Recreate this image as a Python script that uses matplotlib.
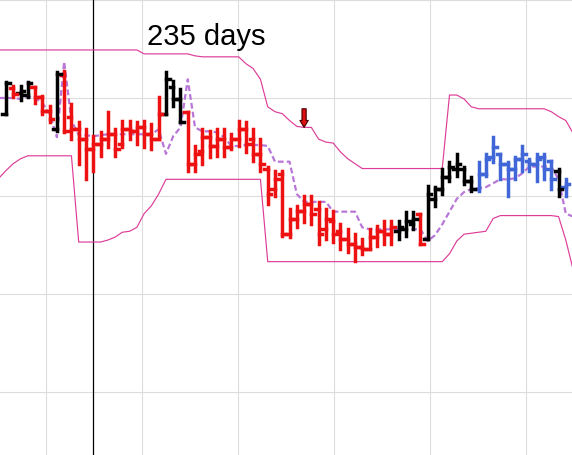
import numpy as np
import matplotlib.pyplot as plt

# daily bars (day 1..78)
bar_days = np.arange(1, 79)
opens = [48.4, 51.0, 50.5, 50.3, 51.1, 50.1, 48.7, 46.8, 52.3, 48.1,
         46.8, 45.8, 44.8, 45.3, 45.8, 46.3, 45.3, 46.8, 46.6, 47.0,
         46.3, 45.8, 48.4, 51.1, 49.9, 48.6, 43.3, 44.6, 46.0, 45.1,
         45.8, 45.0, 45.8, 46.8, 45.8, 44.3, 42.8, 40.7, 42.2, 36.1,
         37.7, 38.5, 39.2, 38.7, 36.6, 37.4, 36.4, 35.6, 35.1, 34.8,
         34.6, 35.8, 36.4, 36.1, 36.4, 36.6, 37.1, 38.2, 35.6, 39.7,
         40.7, 41.9, 42.8, 42.8, 41.5, 40.7, 42.2, 44.0, 44.3, 43.3,
         42.8, 43.8, 43.6, 43.3, 44.0, 43.6, 42.6, 40.9]
highs = [51.6, 51.2, 51.2, 51.6, 51.1, 50.2, 49.2, 52.7, 52.8, 49.4,
         47.6, 46.8, 46.1, 46.5, 48.6, 46.8, 47.7, 47.7, 47.6, 47.7,
         47.3, 50.1, 52.7, 51.7, 50.9, 48.6, 45.1, 46.8, 46.6, 46.8,
         46.8, 46.3, 47.7, 47.6, 46.8, 45.8, 43.0, 42.6, 42.6, 38.7,
         39.0, 40.0, 40.0, 39.4, 38.7, 38.5, 37.1, 36.6, 36.1, 35.6,
         36.6, 36.9, 37.4, 37.4, 37.4, 38.4, 38.4, 38.2, 41.0, 40.9,
         42.8, 43.5, 44.3, 43.0, 41.9, 43.5, 44.3, 46.0, 44.3, 43.5,
         44.0, 45.1, 43.8, 44.3, 44.3, 43.6, 42.8, 41.7]
lows = [48.4, 50.1, 49.8, 50.1, 49.5, 48.4, 47.5, 46.6, 46.5, 45.8,
        43.3, 41.7, 42.6, 44.1, 45.0, 44.1, 45.0, 45.8, 45.3, 45.0,
        44.8, 45.8, 48.4, 49.2, 47.6, 42.6, 42.6, 43.3, 44.0, 44.1,
        44.1, 44.8, 45.1, 44.5, 43.6, 42.6, 39.2, 40.0, 35.9, 35.8,
        36.8, 37.3, 37.1, 35.1, 35.6, 35.3, 34.6, 34.3, 33.4, 34.1,
        34.6, 34.9, 35.1, 35.1, 35.6, 35.9, 36.6, 35.1, 35.6, 39.0,
        40.2, 41.5, 42.0, 41.2, 40.5, 40.5, 42.0, 43.5, 41.7, 40.0,
        41.7, 42.5, 42.6, 41.5, 41.7, 40.7, 40.0, 40.0]
closes = [51.5, 50.4, 50.7, 51.5, 50.1, 48.7, 47.9, 52.4, 46.6, 46.8,
          45.8, 44.8, 45.3, 45.8, 46.3, 44.8, 46.8, 46.6, 47.0, 46.3,
          45.8, 48.4, 51.9, 49.9, 47.6, 43.3, 44.3, 46.0, 45.1, 45.8,
          45.0, 45.8, 46.8, 45.3, 44.3, 43.3, 40.2, 41.7, 36.1, 37.7,
          38.5, 39.2, 38.2, 36.1, 37.7, 36.1, 35.6, 35.1, 34.8, 34.6,
          35.8, 36.4, 36.1, 36.8, 36.8, 37.4, 37.7, 35.1, 40.2, 40.7,
          41.9, 43.0, 43.3, 41.5, 40.7, 42.2, 43.8, 45.0, 43.3, 42.8,
          43.8, 44.3, 43.3, 43.8, 42.8, 41.7, 40.7, 41.2]
# k = black, r = red, b = blue
bar_kinds = "krkkrrrkrrrrrrrrrrrrrrkkkrrrrrrrrrrrrrrrrrrrrrrrrrrrrrkkkrkkkkkkkbbbbbbbbbbbkb"

# overlay lines (day 0..79)
line_days = np.arange(0, 80)
avg_line = [50.0,
            50.0, 50.0, 49.9, 50.1, 50.0, 49.5, 48.4, 46.0, 53.7, 47.7,
            46.2, 46.2, 46.1, 46.2, 46.3, 46.3, 46.3, 46.3, 46.3, 46.3,
            46.3, 46.8, 44.3, 46.1, 47.0, 51.9, 47.0, 46.6, 46.6, 46.5,
            46.0, 45.1, 45.1, 45.2, 45.2, 45.2, 45.1, 43.5, 43.5, 43.5,
            40.2, 39.4, 39.4, 39.4, 39.4, 38.4, 38.4, 38.4, 38.4, 36.8,
            36.6, 36.6, 36.6, 36.6, 36.6, 36.6, 36.6, 36.6, 35.4, 36.0,
            37.1, 38.4, 39.7, 40.4, 40.7, 40.8, 40.9, 41.3, 41.7, 41.7,
            41.8, 42.3, 43.0, 43.0, 43.0, 43.0, 41.7, 38.2,
            37.9]
upper_band = [54.9,
              54.9, 54.9, 54.9, 54.9, 54.9, 54.9, 54.9, 54.9, 54.9, 54.9,
              54.9, 54.9, 54.9, 54.9, 54.9, 54.9, 54.9, 54.9, 54.9, 54.5,
              54.5, 54.5, 54.5, 54.5, 54.5, 54.5, 54.3, 54.2, 54.2, 54.2,
              54.2, 54.2, 54.2, 53.5, 53.0, 51.9, 49.1, 48.6, 48.4, 47.7,
              47.1, 47.0, 47.0, 45.8, 45.5, 45.4, 44.5, 43.8, 43.3, 42.8,
              42.8, 42.8, 42.8, 42.8, 42.8, 42.8, 42.8, 42.8, 42.8, 42.8,
              42.8, 50.3, 50.3, 49.9, 49.1, 48.9, 48.9, 48.9, 48.9, 48.9,
              48.9, 48.9, 48.9, 48.9, 48.9, 48.6, 48.1, 47.7,
              46.4]
lower_band = [41.8,
              42.6, 43.3, 43.8, 44.1, 44.1, 44.1, 44.1, 44.1, 44.1, 44.1,
              35.3, 35.3, 35.3, 35.3, 35.5, 35.8, 36.3, 36.4, 36.8, 38.2,
              39.0, 40.2, 41.7, 41.7, 41.7, 41.7, 41.7, 41.7, 41.7, 41.7,
              41.7, 41.7, 41.7, 41.7, 41.7, 41.7, 33.3, 33.3, 33.3, 33.3,
              33.3, 33.3, 33.3, 33.3, 33.3, 33.3, 33.3, 33.3, 33.3, 33.3,
              33.3, 33.3, 33.3, 33.3, 33.3, 33.3, 33.3, 33.3, 33.3, 33.3,
              33.3, 34.1, 35.4, 36.1, 36.2, 36.3, 36.4, 37.7, 38.0, 38.0,
              38.0, 38.0, 38.0, 38.0, 38.0, 38.0, 37.9, 35.5,
              32.5]

grid_days = [6.5, 19.7, 32.9, 46.1, 59.3, 72.5]
grid_prices = [20, 30, 40, 50, 60]
marker_day = 13
signal_day = 42
signal_top, signal_tip = 48.9, 47.0
label_day, label_price = 20.4, 56.3
label_text = "235 days"

kind_colors = {"k": "black", "r": "#ee1111", "b": "#4066d8"}
colors = [kind_colors[k] for k in bar_kinds]

fig = plt.figure(figsize=(5.72, 4.56), dpi=100)
ax = fig.add_axes([0, 0, 1, 1])
ax.set_xlim(0.175, 78.85)
ax.set_ylim(13.57, 60.1)
ax.axis("off")

for g in grid_days:
    ax.axvline(g, color="#dddddd", lw=0.8, zorder=0)
for g in grid_prices:
    ax.axhline(g, color="#dddddd", lw=0.8, zorder=0)

ax.axvline(marker_day, color="black", lw=0.9, zorder=1)

ax.plot(line_days, upper_band, color="#dd3d99", lw=0.85, zorder=1)
ax.plot(line_days, lower_band, color="#dd3d99", lw=0.85, zorder=1)
ax.plot(line_days, avg_line, color="#b877d8", lw=1.6,
        linestyle=(0, (2.6, 1.4)), zorder=2)

# step-like OHLC bars
ax.vlines(bar_days, lows, highs, colors=colors, lw=2.5, zorder=3,
          capstyle="projecting")
ax.hlines(opens, bar_days - 0.5, bar_days, colors=colors, lw=2.5, zorder=3,
          capstyle="projecting")
ax.hlines(closes, bar_days, bar_days + 0.5, colors=colors, lw=2.5, zorder=3,
          capstyle="projecting")

ax.annotate("", xy=(signal_day, signal_tip), xytext=(signal_day, signal_top),
            arrowprops=dict(arrowstyle="simple,head_length=0.5,head_width=0.6,tail_width=0.3",
                            fc="#dd1111", ec="#440000", lw=0.8,
                            shrinkA=0, shrinkB=0),
            zorder=4)

ax.text(label_day, label_price, label_text, fontsize=21,
        family="Liberation Sans", ha="left", va="center")

fig.savefig("out.png", dpi=100)
